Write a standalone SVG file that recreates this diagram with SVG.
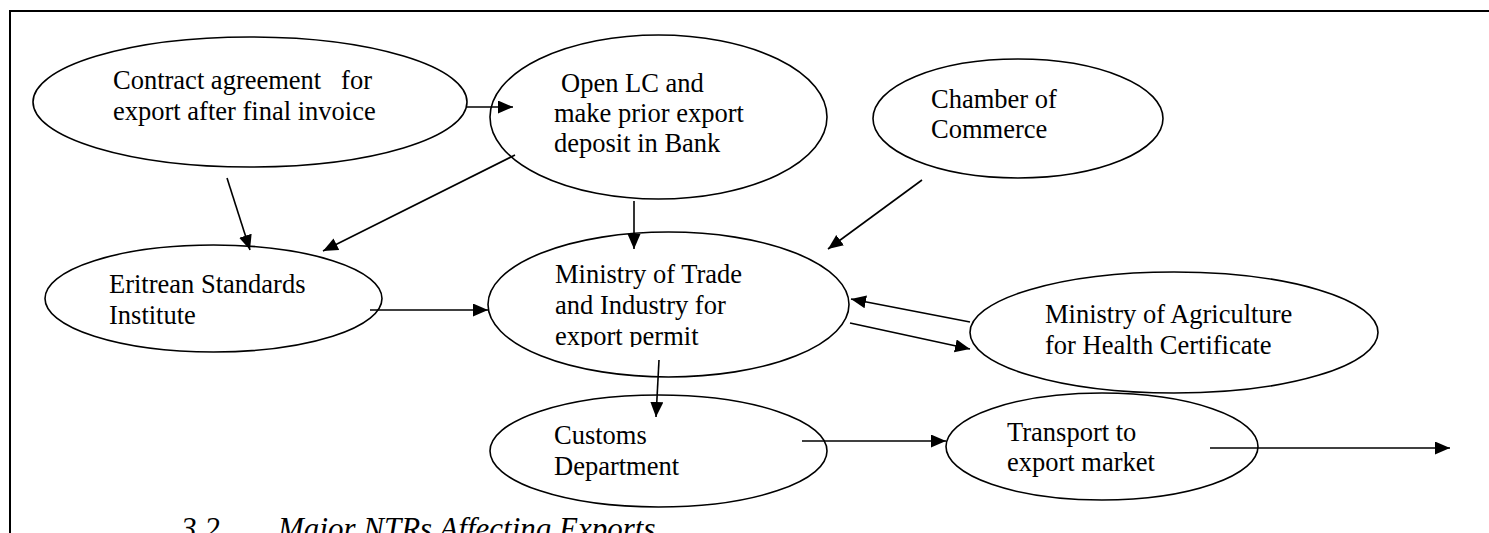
<svg xmlns="http://www.w3.org/2000/svg" width="1489" height="533" viewBox="0 0 1489 533">
<style>
.n ellipse{fill:#fff;stroke:#000;stroke-width:1.6}
text{font-family:"Liberation Serif","Times New Roman",serif;font-size:26.5px;fill:#000}
.cap{font-style:italic;font-size:31px}
#connectors line{stroke:#000;stroke-width:1.6;marker-end:url(#ah)}
</style>
<defs>
<marker id="ah" markerUnits="userSpaceOnUse" markerWidth="16" markerHeight="14" refX="15" refY="6.5" orient="auto">
<path d="M0,0 L15,6.5 L0,13 z" fill="#000"/>
</marker>
<clipPath id="clipTrade"><rect x="0" y="0" width="1489" height="347"/></clipPath>
</defs>
<rect width="1489" height="533" fill="#fff"/>
<g id="frame" stroke="#000" stroke-width="2" fill="none">
<path d="M10,533 L10,11 L1489,11"/>
</g>
<g id="contract" class="n">
<ellipse cx="250" cy="102" rx="217" ry="65"/>
<text x="113" y="89" xml:space="preserve">Contract agreement   for</text>
<text x="113" y="120">export after final invoice</text>
</g>
<g id="openlc" class="n">
<ellipse cx="658.5" cy="117" rx="168.5" ry="82"/>
<text x="561" y="92">Open LC and</text>
<text x="554" y="122">make prior export</text>
<text x="554" y="152">deposit in Bank</text>
</g>
<g id="chamber" class="n">
<ellipse cx="1018" cy="118.5" rx="145" ry="59.5"/>
<text x="931" y="108">Chamber of</text>
<text x="931" y="138">Commerce</text>
</g>
<g id="eritrean" class="n">
<ellipse cx="213.5" cy="298.5" rx="168.5" ry="53.5"/>
<text x="109" y="293">Eritrean Standards</text>
<text x="109" y="324">Institute</text>
</g>
<g id="trade" class="n">
<ellipse cx="668.5" cy="304.5" rx="180.5" ry="72.5"/>
<text x="555" y="283">Ministry of Trade</text>
<text x="555" y="314">and Industry for</text>
<text x="555" y="345" clip-path="url(#clipTrade)">export permit</text>
</g>
<g id="agriculture" class="n">
<ellipse cx="1174" cy="332.5" rx="204" ry="60.5"/>
<text x="1045" y="323">Ministry of Agriculture</text>
<text x="1045" y="354">for Health Certificate</text>
</g>
<g id="customs" class="n">
<ellipse cx="658.5" cy="451" rx="168.5" ry="56"/>
<text x="554" y="444">Customs</text>
<text x="554" y="475">Department</text>
</g>
<g id="transport" class="n">
<ellipse cx="1102" cy="446.5" rx="156" ry="53.5"/>
<text x="1007" y="441">Transport to</text>
<text x="1007" y="471">export market</text>
</g>
<g id="connectors">
<line x1="467" y1="107" x2="513" y2="107"/>
<line x1="227" y1="178" x2="250" y2="250"/>
<line x1="515" y1="155" x2="323" y2="251"/>
<line x1="634" y1="201" x2="634" y2="249"/>
<line x1="922" y1="180" x2="828" y2="249"/>
<line x1="370" y1="310" x2="488" y2="310"/>
<line x1="970" y1="322" x2="851" y2="299"/>
<line x1="850" y1="323" x2="970" y2="349"/>
<line x1="659" y1="360" x2="656" y2="417"/>
<line x1="802" y1="441" x2="946" y2="441"/>
<line x1="1210" y1="448" x2="1450" y2="448"/>
</g>
<g id="caption">
<text class="cap" x="181" y="539">3.2</text>
<text class="cap" x="278" y="539">Major NTRs Affecting Exports</text>
</g>
</svg>
